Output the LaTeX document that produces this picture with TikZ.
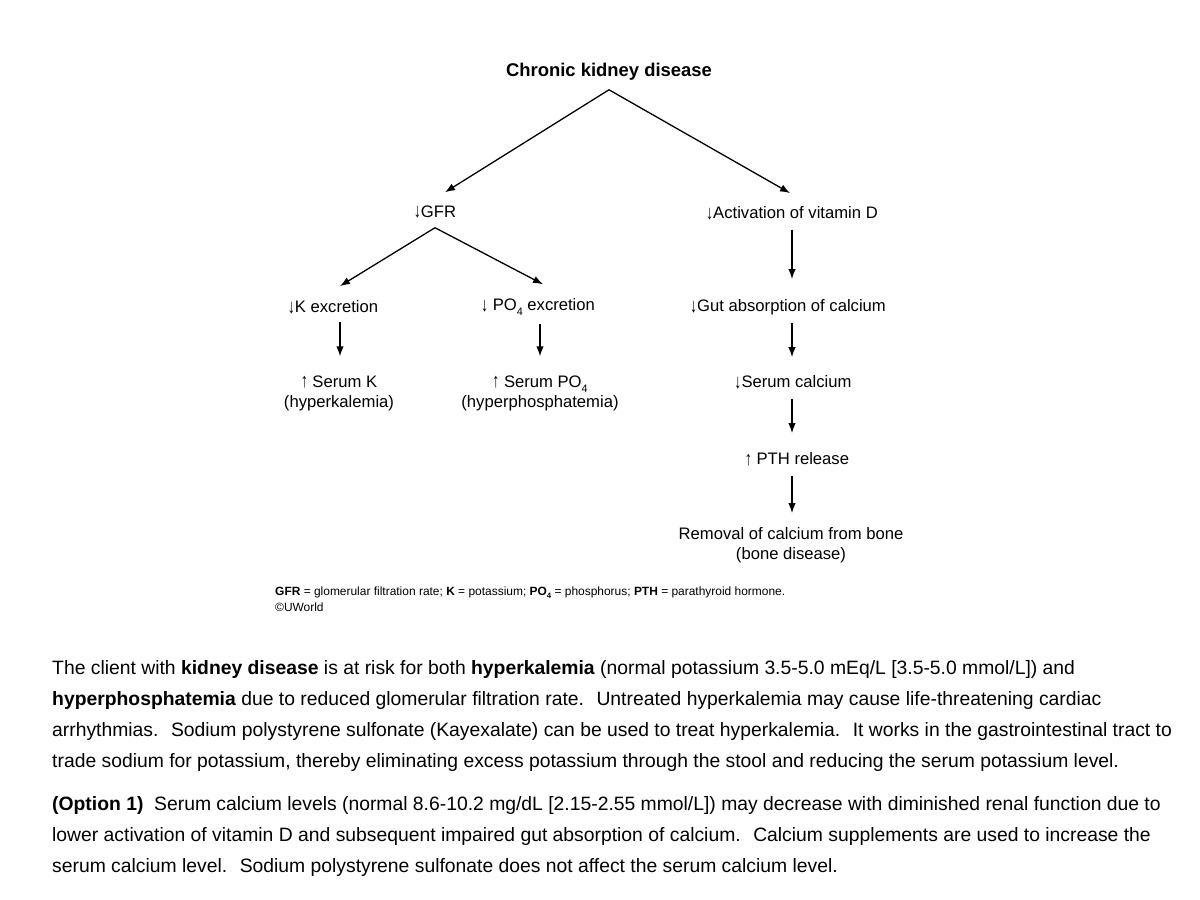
\documentclass[tikz,border=0pt]{standalone}
\usepackage{fontspec}
\usepackage{graphicx}
\setmainfont{Liberation Sans}
\usetikzlibrary{arrows.meta,calc}
\newcommand\mysub[1]{\raisebox{-0.3em}{\scalebox{0.65}{#1}}}
\newcommand\dn{{\raisebox{-0.05em}{\scalebox{0.85}[1.2]{↓}}}}
\newcommand\up{{\raisebox{-0.05em}{\scalebox{0.85}[1.2]{↑}}}}
\begin{document}
\begin{tikzpicture}[x=1bp,y=-1bp,
  lbl/.style={inner sep=0pt,font=\fontsize{16.7}{20}\selectfont,align=center},
  ttl/.style={inner sep=0pt,font=\fontsize{18.5}{20}\selectfont\bfseries},
  arr/.style={-{Latex[length=10bp,width=7.5bp]},line width=1.3bp},
  para/.style={inner sep=0pt,anchor=base west,font=\fontsize{19.4}{22}\selectfont},
  foot/.style={inner sep=0pt,anchor=base west,font=\fontsize{12}{14}\selectfont}]
\useasboundingbox (0,0) rectangle (1200,900);
\fill[white] (0,0) rectangle (1200,900);
% diagram nodes
\node[ttl] (ckd) at (609,72) {Chronic kidney disease};
\node[lbl] (gfr) at (435,212) {\dn GFR};
\node[lbl] (vitd) at (792,213) {\dn Activation of vitamin D};
\node[lbl] (kex) at (333,307) {\dn K excretion};
\node[lbl] (poex) at (538,307) {\dn\ PO\mysub{4} excretion};
\node[lbl] (gut) at (788,307) {\dn Gut absorption of calcium};
\node[lbl] (sk) at (339,393) {\up\ Serum K\\(hyperkalemia)};
\node[lbl] (spo) at (540,393) {\up\ Serum PO\mysub{4}\\(hyperphosphatemia)};
\node[lbl] (sca) at (793,382) {\dn Serum calcium};
\node[lbl] (pth) at (797,459) {\up\ PTH release};
\node[lbl] (bone) at (791,545) {Removal of calcium from bone\\(bone disease)};
% connectors
\coordinate (ckdA) at ($(ckd.south)+(0,9)$);
\coordinate (gfrT) at ($(gfr.north)+(10,-13)$);
\coordinate (vitT) at ($(vitd.north)+(-2,-13)$);
\draw[arr] (ckdA) -- (gfrT);
\draw[arr] (ckdA) -- (vitT);
\coordinate (gfrA) at ($(gfr.south)+(0,9)$);
\coordinate (kexT) at ($(kex.north)+(7,-14)$);
\coordinate (poT) at ($(poex.north)+(5,-14)$);
\draw[arr] (gfrA) -- (kexT);
\draw[arr] (gfrA) -- (poT);
\draw[arr] ($(kex.south)+(7,8)$) -- ($(sk.north)+(1,-19)$);
\draw[arr] ($(poex.south)+(2,8)$) -- ($(spo.north)+(0,-19)$);
\draw[arr] ($(vitd.south)+(0,10)$) -- ($(gut.north)+(4,-20)$);
\draw[arr] ($(gut.south)+(4,8)$) -- ($(sca.north)+(-1,-18)$);
\draw[arr] ($(sca.south)+(-1,10)$) -- ($(pth.north)+(-5,-19)$);
\draw[arr] ($(pth.south)+(-5,10)$) -- ($(bone.north)+(1,-14)$);
% footnote
\node[foot] (f1) at (275,595) {\textbf{GFR} = glomerular filtration rate; \textbf{K} = potassium; \textbf{PO\mysub{4}} = phosphorus; \textbf{PTH} = parathyroid hormone.};
\node[foot] (f2) at (275,611) {©UWorld};
% paragraph
\node[para] (p1) at (52,674) {The client with \textbf{kidney disease} is at risk for both \textbf{hyperkalemia} (normal potassium 3.5-5.0 mEq/L [3.5-5.0 mmol/L]) and};
\node[para] (p2) at (52,705) {\textbf{hyperphosphatemia} due to reduced glomerular filtration rate.~ Untreated hyperkalemia may cause life-threatening cardiac};
\node[para] (p3) at (52,736) {arrhythmias.~ Sodium polystyrene sulfonate (Kayexalate) can be used to treat hyperkalemia.~ It works in the gastrointestinal tract to};
\node[para] (p4) at (52,767) {trade sodium for potassium, thereby eliminating excess potassium through the stool and reducing the serum potassium level.};
\node[para] (p5) at (52,810) {\textbf{(Option 1)}~ Serum calcium levels (normal 8.6-10.2 mg/dL [2.15-2.55 mmol/L]) may decrease with diminished renal function due to};
\node[para] (p6) at (52,841) {lower activation of vitamin D and subsequent impaired gut absorption of calcium.~ Calcium supplements are used to increase the};
\node[para] (p7) at (52,872) {serum calcium level.~ Sodium polystyrene sulfonate does not affect the serum calcium level.};
\end{tikzpicture}
\end{document}
